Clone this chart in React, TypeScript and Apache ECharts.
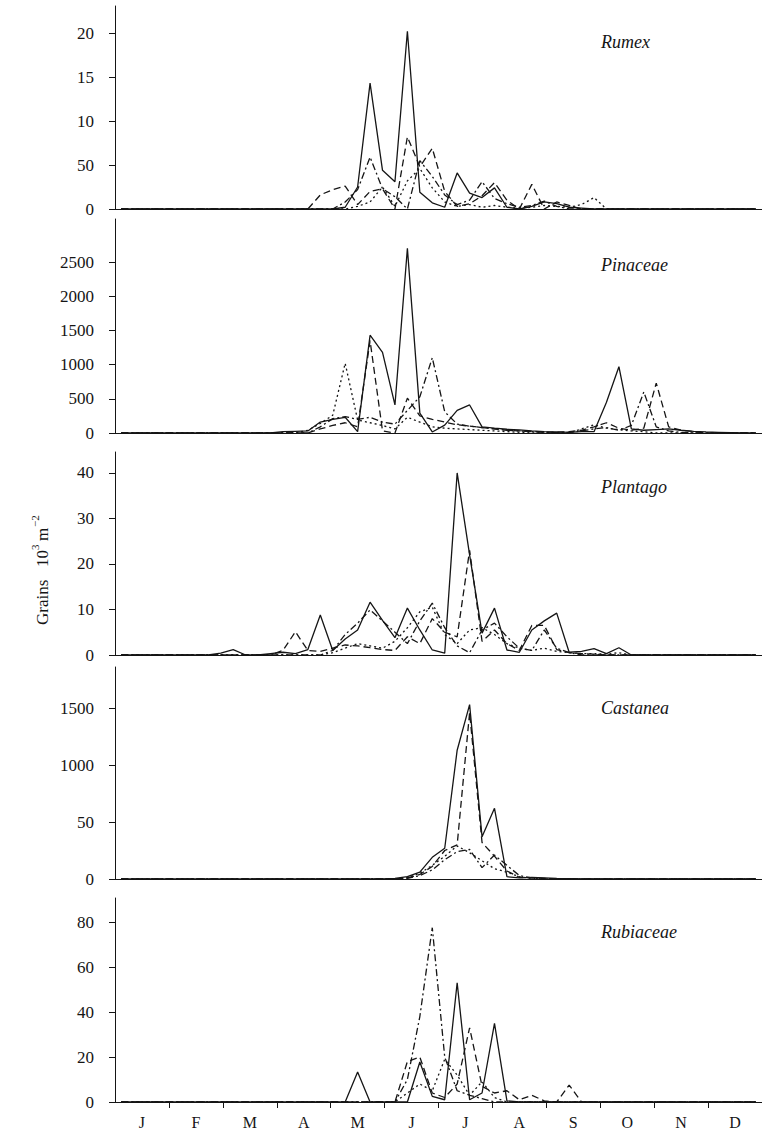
import React, { useEffect, useRef } from "react";
import * as echarts from "echarts";

// ---------- DATA ----------
const months = ["J", "F", "M", "A", "M", "J", "J", "A", "S", "O", "N", "D"];
const monthTicks = [1, 2, 3, 4, 5, 6, 7, 8, 9, 10, 11];
const monthLabelPos = [0.5, 1.5, 2.5, 3.5, 4.5, 5.5, 6.5, 7.5, 8.5, 9.5, 10.5, 11.5];
const WEEKS = 52;

const species = ["Rumex", "Pinaceae", "Plantago", "Castanea", "Rubiaceae"];

// tick values and the printed tick labels of each panel
const rumexTicks = [0, 5, 10, 15, 20];
const rumexTickLabels = ["0", "50", "10", "15", "20"];
const pinaceaeTicks = [0, 500, 1000, 1500, 2000, 2500];
const pinaceaeTickLabels = ["0", "500", "1000", "1500", "2000", "2500"];
const plantagoTicks = [0, 10, 20, 30, 40];
const plantagoTickLabels = ["0", "10", "20", "30", "40"];
const castaneaTicks = [0, 500, 1000, 1500];
const castaneaTickLabels = ["0", "50", "1000", "1500"];
const rubiaceaeTicks = [0, 20, 40, 60, 80];
const rubiaceaeTickLabels = ["0", "20", "40", "60", "80"];

// weekly values: first week index, then values from that week on (0 elsewhere)
const rumexSolidStart = 17;
const rumexSolid = [0, 0.2, 2.5, 14.3, 4.4, 3.1, 20.2, 1.9, 0.7, 0.2, 4.1, 1.8, 1.3, 2.4, 0.2, 0, 0.3, 0.8, 0.6, 0.2, 0.1, 0];
const rumexDashedStart = 15;
const rumexDashed = [0, 1.6, 2.2, 2.6, 0.5, 2.0, 2.3, 0, 8.2, 4.8, 6.9, 2.0, 0.3, 0.6, 1.5, 3.0, 1.0, 0, 2.8, 0, 0.8, 0.4, 0];
const rumexDottedStart = 18;
const rumexDotted = [0, 0.3, 0.8, 2.5, 0.3, 3.2, 4.6, 2.4, 0.8, 0.3, 0.5, 0.2, 0.4, 0.2, 0.1, 0.2, 0.4, 0.3, 0.2, 0.5, 1.3, 0];
const rumexDashDotStart = 17;
const rumexDashDot = [0, 0.8, 2.2, 5.9, 2.3, 1.4, 0, 5.5, 3.7, 1.6, 0.5, 1.0, 3.1, 1.2, 0.6, 0.2, 0.4, 0.9, 0.3, 0];

const pinaceaeSolidStart = 12;
const pinaceaeSolid = [0, 20, 25, 30, 160, 200, 230, 20, 1430, 1180, 410, 2700, 290, 15, 115, 330, 410, 90, 70, 55, 45, 30, 20, 15, 10, 20, 20, 450, 970, 60, 40, 50, 60, 40, 25, 15, 10, 5];
const pinaceaeDashedStart = 15;
const pinaceaeDashed = [0, 60, 110, 150, 90, 1350, 30, 0, 510, 250, 200, 160, 120, 100, 80, 60, 40, 30, 20, 15, 10, 20, 40, 90, 150, 70, 40, 70, 730, 90, 40, 20, 0];
const pinaceaeDottedStart = 14;
const pinaceaeDotted = [0, 40, 140, 260, 1020, 190, 150, 110, 60, 230, 160, 90, 70, 60, 50, 40, 30, 20, 10, 0, 0, 0, 0, 60, 120, 70, 50, 30, 20, 0];
const pinaceaeDashDotStart = 15;
const pinaceaeDashDot = [0, 90, 210, 240, 200, 230, 160, 130, 330, 530, 1100, 310, 130, 100, 80, 60, 40, 30, 20, 10, 5, 10, 30, 60, 80, 40, 110, 600, 90, 30, 10, 0];

const plantagoSolidStart = 7;
const plantagoSolid = [0, 0.4, 1.2, 0, 0, 0.3, 0.6, 0.3, 1.2, 8.8, 1.0, 3.5, 5.5, 11.6, 7.6, 3.8, 10.3, 5.5, 1.1, 0.4, 40, 22, 4.8, 10.3, 1.1, 0.6, 5.5, 7.5, 9.2, 0.6, 0.8, 1.4, 0.3, 1.6, 0];
const plantagoDashedStart = 12;
const plantagoDashed = [0, 1.0, 5.1, 1.0, 0.8, 1.5, 2.2, 2.0, 1.6, 1.2, 1.0, 4.0, 2.5, 8.0, 5.0, 4.0, 23, 3.0, 5.5, 2.5, 1.0, 6.5, 6.5, 1.2, 0.5, 0.3, 0.2, 0];
const plantagoDottedStart = 16;
const plantagoDotted = [0, 0.5, 1.5, 2.5, 2.0, 1.5, 3.0, 6.0, 9.5, 10.5, 4.5, 2.5, 5.5, 6.0, 4.5, 2.5, 1.5, 1.0, 1.5, 0.8, 0.5, 0.3, 0.3, 0.2, 0.5, 0];
const plantagoDashDotStart = 16;
const plantagoDashDot = [0, 1.0, 4.5, 7.0, 9.9, 7.5, 5.0, 2.5, 7.5, 11.4, 6.0, 2.0, 0.5, 5.5, 7.0, 4.0, 1.5, 1.0, 5.5, 1.5, 0.5, 0];

const castaneaSolidStart = 21;
const castaneaSolid = [0, 5, 20, 60, 190, 270, 1130, 1530, 370, 620, 20, 10, 15, 10, 5, 3, 0];
const castaneaDashedStart = 22;
const castaneaDashed = [0, 10, 40, 110, 250, 300, 1460, 320, 200, 70, 15, 10, 5, 0];
const castaneaDottedStart = 22;
const castaneaDotted = [0, 15, 50, 120, 200, 290, 230, 160, 90, 60, 20, 5, 0];
const castaneaDashDotStart = 22;
const castaneaDashDot = [0, 5, 30, 80, 170, 240, 260, 100, 210, 120, 30, 10, 0];

const rubiaceaeSolidStart = 17;
const rubiaceaeSolid = [0, 0, 13.3, 0, 0, 0, 0, 17.8, 2.5, 1.0, 53, 1.0, 4.0, 35, 0.5, 0];
const rubiaceaeDashedStart = 21;
const rubiaceaeDashed = [0, 0, 18, 20, 4, 2, 8, 33, 7, 4, 5, 1, 3, 0.5, 0, 7.5, 0];
const rubiaceaeDottedStart = 22;
const rubiaceaeDotted = [0, 4, 8, 5, 19, 12, 3, 9, 2, 0];
const rubiaceaeDashDotStart = 22;
const rubiaceaeDashDot = [0, 10, 38, 77.5, 20, 5, 3, 1.5, 0];

// ---------- LAYOUT / STYLE ----------
const FONT = '"Liberation Serif", "Times New Roman", serif';
const INK = "#151515";
const layout = [
  { top: 6, height: 203, max: 23.07, titleY: 42 },
  { top: 219, height: 214, max: 3130, titleY: 265 },
  { top: 452, height: 203, max: 44.6, titleY: 487 },
  { top: 667, height: 212, max: 1860, titleY: 708 },
  { top: 898, height: 204, max: 90.7, titleY: 932 },
];
const dashStyles: any[] = ["solid", [7, 4], [2, 3], [7, 3, 2, 3]];

function weekly(start: number, values: number[]) {
  const out: [number, number][] = [];
  for (let k = 0; k < WEEKS; k++) {
    const i = k - start;
    const v = i >= 0 && i < values.length ? values[i] : 0;
    out.push([((k + 0.5) * 12) / WEEKS, v]);
  }
  return out;
}

const panelSeries = [
  [weekly(rumexSolidStart, rumexSolid), weekly(rumexDashedStart, rumexDashed), weekly(rumexDottedStart, rumexDotted), weekly(rumexDashDotStart, rumexDashDot)],
  [weekly(pinaceaeSolidStart, pinaceaeSolid), weekly(pinaceaeDashedStart, pinaceaeDashed), weekly(pinaceaeDottedStart, pinaceaeDotted), weekly(pinaceaeDashDotStart, pinaceaeDashDot)],
  [weekly(plantagoSolidStart, plantagoSolid), weekly(plantagoDashedStart, plantagoDashed), weekly(plantagoDottedStart, plantagoDotted), weekly(plantagoDashDotStart, plantagoDashDot)],
  [weekly(castaneaSolidStart, castaneaSolid), weekly(castaneaDashedStart, castaneaDashed), weekly(castaneaDottedStart, castaneaDotted), weekly(castaneaDashDotStart, castaneaDashDot)],
  [weekly(rubiaceaeSolidStart, rubiaceaeSolid), weekly(rubiaceaeDashedStart, rubiaceaeDashed), weekly(rubiaceaeDottedStart, rubiaceaeDotted), weekly(rubiaceaeDashDotStart, rubiaceaeDashDot)],
];
const panelTicks = [rumexTicks, pinaceaeTicks, plantagoTicks, castaneaTicks, rubiaceaeTicks];
const panelTickLabels = [rumexTickLabels, pinaceaeTickLabels, plantagoTickLabels, castaneaTickLabels, rubiaceaeTickLabels];

function buildOption() {
  const grid: any[] = [];
  const xAxis: any[] = [];
  const yAxis: any[] = [];
  const series: any[] = [];
  const graphic: any[] = [];
  const last = layout.length - 1;

  layout.forEach((L, i) => {
    grid.push({ left: 115, right: 0, top: L.top, height: L.height, containLabel: false });
    xAxis.push({
      type: "value",
      gridIndex: i,
      min: 0,
      max: 12,
      splitLine: { show: false },
      axisLine: { show: true, onZero: false, lineStyle: { color: INK, width: 1 } },
      axisTick: {
        show: i === last,
        customValues: monthTicks,
        length: 6,
        lineStyle: { color: INK, width: 1 },
      },
      axisLabel: {
        show: i === last,
        customValues: monthLabelPos,
        formatter: (v: number) => months[Math.floor(v)] || "",
        fontFamily: FONT,
        fontSize: 16,
        color: INK,
        margin: 12,
      },
    });
    const ticks = panelTicks[i];
    const labels = panelTickLabels[i];
    yAxis.push({
      type: "value",
      gridIndex: i,
      min: 0,
      max: L.max,
      splitLine: { show: false },
      axisLine: { show: true, lineStyle: { color: INK, width: 1 } },
      axisTick: { show: true, customValues: ticks, length: 6, lineStyle: { color: INK, width: 1 } },
      axisLabel: {
        customValues: ticks,
        formatter: (v: number) => {
          const idx = ticks.indexOf(v);
          return idx >= 0 ? labels[idx] : "";
        },
        fontFamily: FONT,
        fontSize: 17,
        color: INK,
        margin: 21,
      },
    });
    const order = [0, 3, 2, 1];
    order.forEach((s) => {
      series.push({
        type: "line",
        xAxisIndex: i,
        yAxisIndex: i,
        data: panelSeries[i][s],
        symbol: "none",
        showSymbol: false,
        clip: false,
        lineStyle: { color: INK, width: 1.3, type: dashStyles[s] },
      });
    });
    graphic.push({
      type: "text",
      x: 601,
      y: L.titleY,
      style: {
        text: species[i],
        font: `italic 18px ${FONT}`,
        fill: INK,
        verticalAlign: "middle",
      },
    });
  });

  // y-axis title, rotated (reads bottom to top)
  graphic.push({
    type: "group",
    x: 42,
    y: 625,
    rotation: Math.PI / 2,
    children: [
      { type: "text", x: 0, y: 0, style: { text: "Grains", font: `17px ${FONT}`, fill: INK, verticalAlign: "middle" } },
      { type: "text", x: 58, y: 0, style: { text: "10", font: `17px ${FONT}`, fill: INK, verticalAlign: "middle" } },
      { type: "text", x: 75, y: -7, style: { text: "3", font: `11px ${FONT}`, fill: INK, verticalAlign: "middle" } },
      { type: "text", x: 84, y: 0, style: { text: "m", font: `17px ${FONT}`, fill: INK, verticalAlign: "middle" } },
      { type: "text", x: 98, y: -7, style: { text: "\u22122", font: `11px ${FONT}`, fill: INK, verticalAlign: "middle" } },
    ],
  });

  return { animation: false, backgroundColor: "#ffffff", grid, xAxis, yAxis, series, graphic };
}

export default function App() {
  const ref = useRef<HTMLDivElement>(null);
  useEffect(() => {
    document.body.style.margin = "0";
    if (!ref.current) return;
    const chart = echarts.init(ref.current, undefined, { renderer: "svg" });
    chart.setOption(buildOption() as any);
    return () => chart.dispose();
  }, []);
  return <div ref={ref} style={{ width: 762, height: 1138 }} />;
}
